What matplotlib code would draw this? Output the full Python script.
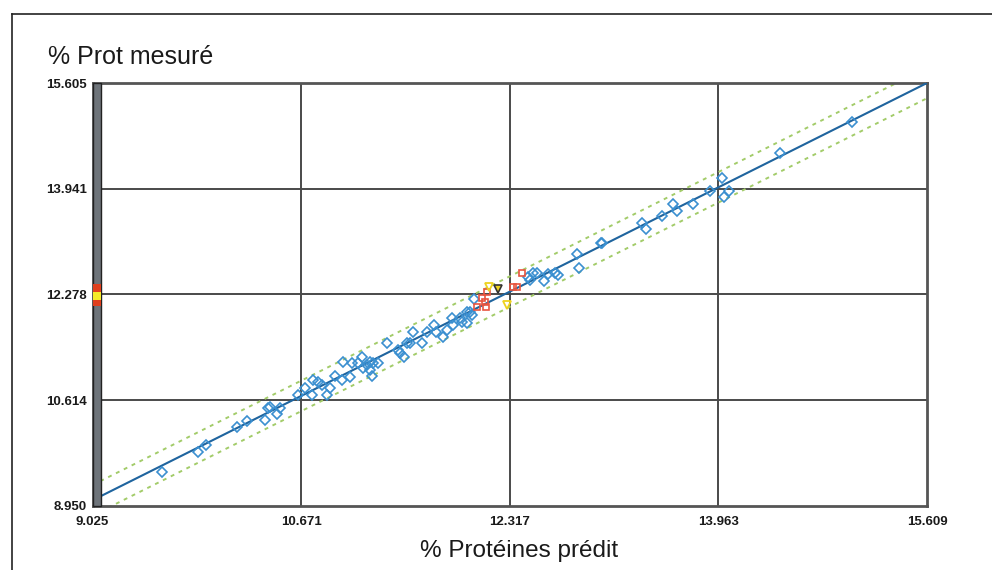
import matplotlib
matplotlib.use("Agg")
import matplotlib.pyplot as plt
from matplotlib.patches import Rectangle
from matplotlib.lines import Line2D
from matplotlib.transforms import blended_transform_factory

# ---- data ----
x_ticks = [9.025, 10.671, 12.317, 13.963, 15.609]
y_ticks = [8.950, 10.614, 12.278, 13.941, 15.605]
x_tick_labels = ["9.025", "10.671", "12.317", "13.963", "15.609"]
y_tick_labels = ["8.950", "10.614", "12.278", "13.941", "15.605"]

blue_x = [9.574, 9.858, 9.921, 10.166, 10.245, 10.387, 10.411, 10.426, 10.481, 10.505,
          10.647, 10.703, 10.766, 10.805, 10.837, 10.758, 10.876, 10.900, 10.939, 10.995,
          11.003, 11.074, 11.058, 11.121, 11.153, 11.161, 11.192, 11.216, 11.232, 11.240,
          11.279, 11.216, 11.350, 11.437, 11.453, 11.484, 11.508, 11.532, 11.555, 11.626,
          11.666, 11.721, 11.737, 11.792, 11.824, 11.863, 11.871, 11.926, 11.942, 11.982,
          11.982, 12.005, 12.021, 12.037, 12.463, 12.479, 12.503, 12.534, 12.590, 12.621,
          12.676, 12.700, 12.850, 12.866, 13.039, 13.047, 13.363, 13.395, 13.521, 13.608,
          13.640, 13.766, 13.900, 13.995, 14.011, 14.050, 14.453, 15.021]
blue_y = [9.484, 9.799, 9.909, 10.192, 10.287, 10.302, 10.491, 10.507, 10.397, 10.491,
          10.696, 10.806, 10.932, 10.900, 10.853, 10.696, 10.696, 10.806, 10.995, 10.932,
          11.215, 11.199, 10.979, 11.199, 11.293, 11.120, 11.167, 11.089, 10.995, 11.199,
          11.199, 11.215, 11.514, 11.403, 11.356, 11.293, 11.514, 11.514, 11.687, 11.514,
          11.687, 11.797, 11.687, 11.608, 11.718, 11.907, 11.797, 11.907, 11.844, 11.828,
          12.001, 12.001, 11.955, 12.206, 12.552, 12.505, 12.615, 12.615, 12.489, 12.599,
          12.615, 12.584, 12.914, 12.693, 13.087, 13.095, 13.401, 13.307, 13.511, 13.700,
          13.590, 13.700, 13.905, 14.109, 13.810, 13.905, 14.502, 14.990]

red_x = [12.061, 12.100, 12.124, 12.132, 12.140, 12.345, 12.376, 12.416]
red_y = [12.080, 12.221, 12.159, 12.080, 12.316, 12.394, 12.394, 12.615]

yellow_x = [12.155, 12.297]
yellow_y = [12.394, 12.111]
dark_x = [12.226]
dark_y = [12.363]

fit_x = [9.025, 15.609]
fit_y = [9.040, 15.605]
upper_y = [9.280, 15.845]
lower_y = [8.800, 15.365]

bar_red = [12.10, 12.44]
bar_yellow = [12.19, 12.32]

xmin, xmax = 9.025, 15.609
ymin, ymax = 8.950, 15.605

# ---- figure ----
W, H = 992, 570
fig = plt.figure(figsize=(W / 100, H / 100), dpi=100)
fig.patch.set_facecolor("white")

# outer frame (top and left)
fig.add_artist(Line2D([12 / W, 1.0], [1 - 14 / H, 1 - 14 / H], color="#222222", lw=1.2))
fig.add_artist(Line2D([12 / W, 12 / W], [0.0, 1 - 14 / H], color="#222222", lw=1.2))

ax = fig.add_axes([92.5 / W, 1 - 506 / H, (927 - 92.5) / W, (506 - 83) / H])
ax.set_xlim(xmin, xmax)
ax.set_ylim(ymin, ymax)

for v in x_ticks[1:-1]:
    ax.axvline(v, color="#4a4a4a", lw=1.4, zorder=1)
for v in y_ticks[1:-1]:
    ax.axhline(v, color="#4a4a4a", lw=1.4, zorder=1)

for s in ax.spines.values():
    s.set_color("#555555")
    s.set_linewidth(2.0)

ax.set_xticks(x_ticks)
ax.set_xticklabels(x_tick_labels)
ax.set_yticks(y_ticks)
ax.set_yticklabels(y_tick_labels)
ax.tick_params(length=0, pad=4)
ax.tick_params(axis="x", pad=7)
for lab in ax.get_xticklabels() + ax.get_yticklabels():
    lab.set_fontweight("bold")
    lab.set_fontsize(9.5)
    lab.set_color("#1a1a1a")
    lab.set_family(["Liberation Sans", "DejaVu Sans"])

# band + fit
ax.plot(fit_x, upper_y, color="#a3cc6a", lw=1.4, ls=(0, (2, 2.5)), zorder=2)
ax.plot(fit_x, lower_y, color="#a3cc6a", lw=1.4, ls=(0, (2, 2.5)), zorder=2)
ax.plot(fit_x, fit_y, color="#1f649e", lw=1.5, zorder=3)

# points
ax.plot(blue_x, blue_y, ls="none", marker="D", ms=4.6, mfc="none", mec="#3a8fd0", mew=1.2, zorder=4)
ax.plot(red_x, red_y, ls="none", marker="s", ms=4.8, mfc="none", mec="#e8553f", mew=1.2, zorder=5)
ax.plot(yellow_x, yellow_y, ls="none", marker="v", ms=5.2, mfc="none", mec="#eed21e", mew=1.3, zorder=5)
ax.plot(dark_x, dark_y, ls="none", marker="v", ms=5.2, mfc="#eed21e", mec="#333333", mew=1.2, zorder=6)

# left status bar
bar_w = 8.5 / (927 - 92.5)
ax.add_patch(Rectangle((0, 0), bar_w, 1, transform=ax.transAxes, facecolor="#6e747a",
                       edgecolor="#222222", lw=1.0, zorder=7, clip_on=False))
tr = blended_transform_factory(ax.transAxes, ax.transData)
ax.add_patch(Rectangle((0, bar_red[0]), bar_w, bar_red[1] - bar_red[0], transform=tr,
                       facecolor="#e0401e", edgecolor="none", zorder=8, clip_on=False))
ax.add_patch(Rectangle((0, bar_yellow[0]), bar_w, bar_yellow[1] - bar_yellow[0], transform=tr,
                       facecolor="#f4ea2a", edgecolor="none", zorder=9, clip_on=False))

# titles
fig.text(48 / W, 1 - 64 / H, "% Prot mesuré", fontsize=18, family=["Liberation Sans", "DejaVu Sans"],
         color="#1a1a1a", ha="left", va="baseline")
fig.text(519 / W, 1 - 557 / H, "% Protéines prédit", fontsize=17.5,
         family=["Liberation Sans", "DejaVu Sans"], color="#1a1a1a", ha="center", va="baseline")

fig.savefig("out.png", dpi=100)
